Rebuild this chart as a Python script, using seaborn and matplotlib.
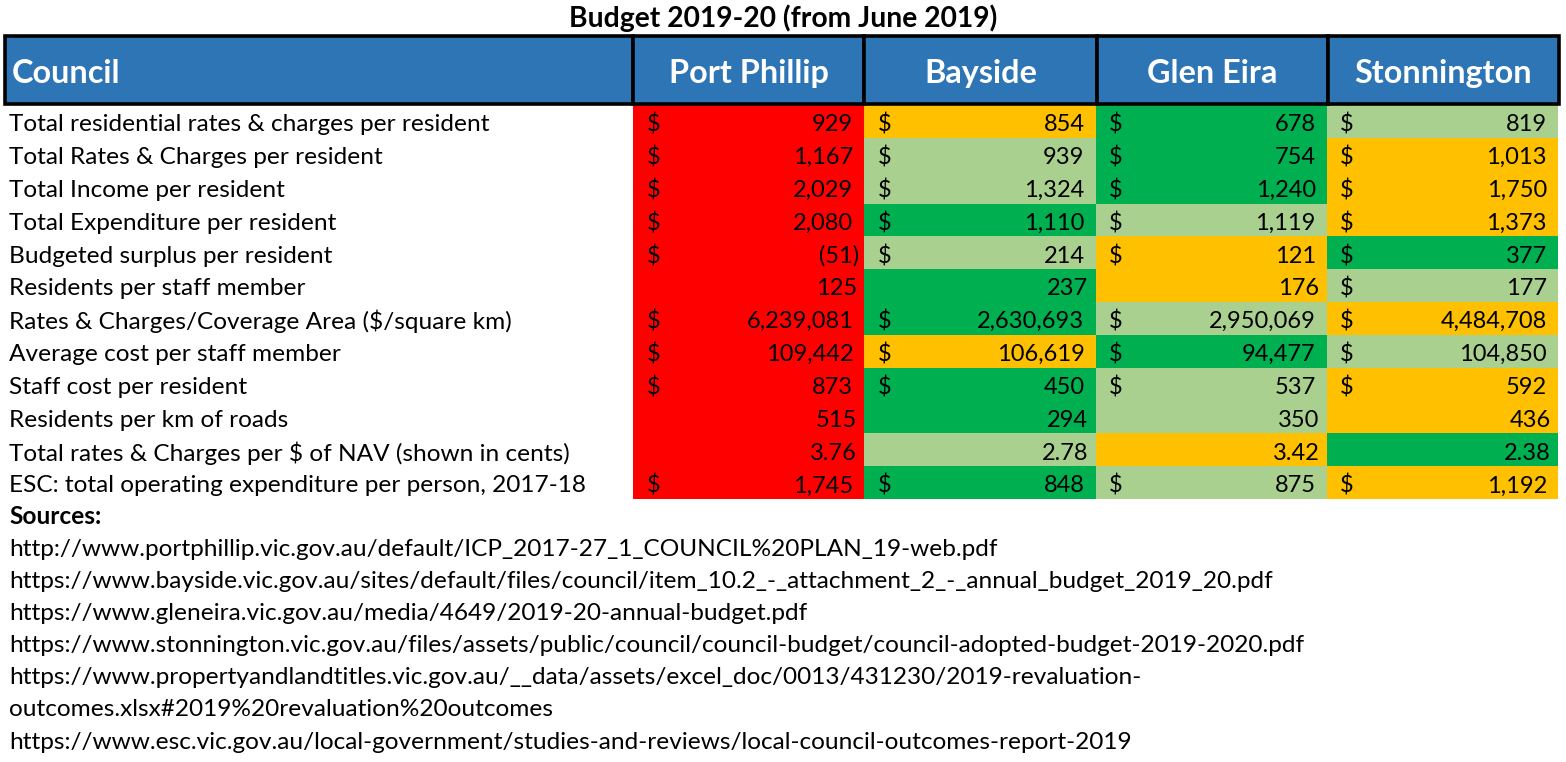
import numpy as np
import pandas as pd
import matplotlib
matplotlib.use("Agg")
import matplotlib.pyplot as plt
import matplotlib.transforms as mtransforms
from matplotlib.colors import ListedColormap
from matplotlib.patches import Rectangle
import seaborn as sns

# ---------------- data ----------------
title = "Budget 2019-20 (from June 2019)"
councils = ["Port Phillip", "Bayside", "Glen Eira", "Stonnington"]
metrics = [
    "Total residential rates & charges per resident",
    "Total Rates & Charges per resident",
    "Total Income per resident",
    "Total Expenditure per resident",
    "Budgeted surplus per resident",
    "Residents per staff member",
    "Rates & Charges/Coverage Area ($/square km)",
    "Average cost per staff member",
    "Staff cost per resident",
    "Residents per km of roads",
    "Total rates & Charges per $ of NAV (shown in cents)",
    "ESC: total operating expenditure per person, 2017-18",
]
port_phillip = ["929", "1,167", "2,029", "2,080", "(51)", "125", "6,239,081", "109,442", "873", "515", "3.76", "1,745"]
bayside = ["854", "939", "1,324", "1,110", "214", "237", "2,630,693", "106,619", "450", "294", "2.78", "848"]
glen_eira = ["678", "754", "1,240", "1,119", "121", "176", "2,950,069", "94,477", "537", "350", "3.42", "875"]
stonnington = ["819", "1,013", "1,750", "1,373", "377", "177", "4,484,708", "104,850", "592", "436", "2.38", "1,192"]

# whether the cell shows a "$" sign (accounting format)
port_phillip_dollar = [1, 1, 1, 1, 1, 0, 1, 1, 1, 0, 0, 1]
bayside_dollar = [1, 1, 1, 1, 1, 0, 1, 1, 1, 0, 0, 1]
glen_eira_dollar = [1, 1, 1, 1, 1, 0, 1, 1, 1, 0, 0, 1]
stonnington_dollar = [1, 1, 1, 1, 1, 1, 1, 1, 1, 0, 0, 1]

# colour rank: 0 red, 1 amber, 2 light green, 3 green
port_phillip_rank = [0, 0, 0, 0, 0, 0, 0, 0, 0, 0, 0, 0]
bayside_rank = [1, 2, 2, 3, 2, 3, 3, 1, 3, 3, 2, 3]
glen_eira_rank = [3, 3, 3, 2, 1, 1, 2, 3, 2, 2, 1, 2]
stonnington_rank = [2, 1, 1, 1, 3, 2, 1, 2, 1, 1, 3, 1]

sources = [
    "http://www.portphillip.vic.gov.au/default/ICP_2017-27_1_COUNCIL%20PLAN_19-web.pdf",
    "https://www.bayside.vic.gov.au/sites/default/files/council/item_10.2_-_attachment_2_-_annual_budget_2019_20.pdf",
    "https://www.gleneira.vic.gov.au/media/4649/2019-20-annual-budget.pdf",
    "https://www.stonnington.vic.gov.au/files/assets/public/council/council-budget/council-adopted-budget-2019-2020.pdf",
    "https://www.propertyandlandtitles.vic.gov.au/__data/assets/excel_doc/0013/431230/2019-revaluation-",
    "outcomes.xlsx#2019%20revaluation%20outcomes",
    "https://www.esc.vic.gov.au/local-government/studies-and-reviews/local-council-outcomes-report-2019",
]

values = [port_phillip, bayside, glen_eira, stonnington]
dollars = [port_phillip_dollar, bayside_dollar, glen_eira_dollar, stonnington_dollar]
ranks = pd.DataFrame(
    {c: r for c, r in zip(councils, [port_phillip_rank, bayside_rank, glen_eira_rank, stonnington_rank])},
    index=metrics,
)

# ---------------- style ----------------
sns.set_theme(style="white")
FONT = ["Lato", "DejaVu Sans"]
plt.rcParams["font.family"] = FONT

W, H = 1566, 762
fig = plt.figure(figsize=(W / 100, H / 100), dpi=100)

def fx(px):
    return px / W

def fy(py):
    return 1 - py / H

# layout (pixels)
tab_left, tab_right = 633, 1558
data_top, data_bottom = 105, 499
head_top, head_bottom = 35, 105
col_edges = [5, 633, 864, 1097, 1328, 1559]

colors = ["#FF0000", "#FFC000", "#A9D08E", "#00B050"]
cmap = ListedColormap(colors)

ax = fig.add_axes([fx(tab_left), fy(data_bottom), fx(tab_right - tab_left), (data_bottom - data_top) / H])
sns.heatmap(ranks, ax=ax, cmap=cmap, vmin=-0.5, vmax=3.5, cbar=False,
            xticklabels=False, yticklabels=False, linewidths=0)
ax.set_xlabel("")
ax.set_ylabel("")

label_fs = 17.6
num_fs = 17.0
dy = 0.1
for j, (vals, dl) in enumerate(zip(values, dollars)):
    for i, (v, d) in enumerate(zip(vals, dl)):
        y = i + 0.5 + dy
        if d:
            ax.text(j + 0.058, y, "$", ha="left", va="center", fontsize=num_fs, color="black")
            xr = j + 1 - (0.022 if v.endswith(")") else 0.048)
        else:
            xr = j + 1 - 0.032
        ax.text(xr, y, v, ha="right", va="center", fontsize=num_fs, color="black")

# row labels
blend = mtransforms.blended_transform_factory(fig.transFigure, ax.transData)
for i, m in enumerate(metrics):
    ax.text(fx(9), i + 0.5 + dy, m, transform=blend, ha="left", va="center", fontsize=label_fs,
            color="black", clip_on=False)

# header
hax = fig.add_axes([0, fy(head_bottom), 1, (head_bottom - head_top) / H])
hax.set_xlim(0, W)
hax.set_ylim(0, 1)
hax.axis("off")
header_labels = ["Council"] + councils
for k in range(5):
    x0, x1 = col_edges[k], col_edges[k + 1]
    hax.add_patch(Rectangle((x0, 0.02), x1 - x0, 0.96, facecolor="#2E75B6",
                            edgecolor="black", linewidth=2.6, clip_on=False))
    if k == 0:
        hax.text(x0 + 7, 0.45, header_labels[k], ha="left", va="center", fontsize=23.3,
                 fontweight="bold", color="white")
    else:
        hax.text((x0 + x1) / 2, 0.45, header_labels[k], ha="center", va="center", fontsize=23.3,
                 fontweight="bold", color="white")

# title
fig.text(fx(783), fy(18), title, ha="center", va="center", fontsize=20.3, fontweight="bold", color="black")

# sources
fig.text(fx(9), fy(517), "Sources:", ha="left", va="center", fontsize=label_fs, fontweight="bold", color="black")
for k, s in enumerate(sources):
    fig.text(fx(9), fy(549 + k * 32.2), s, ha="left", va="center", fontsize=label_fs, color="black")

fig.savefig("out.png", dpi=100, facecolor="white")
